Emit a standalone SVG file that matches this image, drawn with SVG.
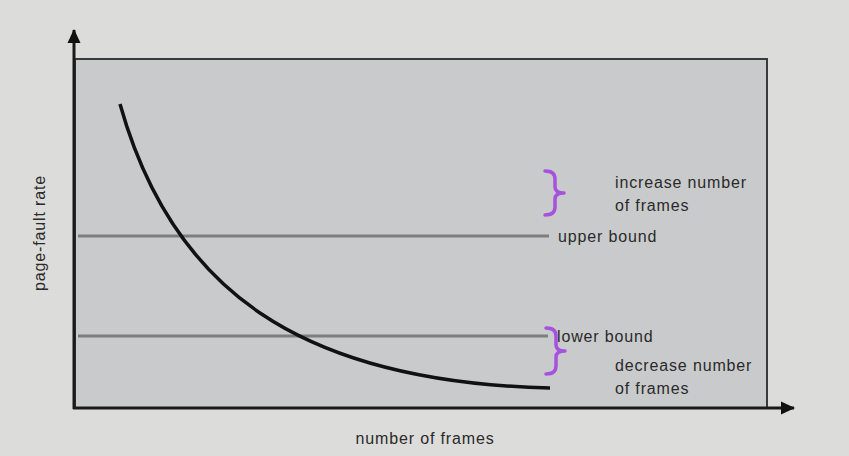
<svg xmlns="http://www.w3.org/2000/svg" width="849" height="456" viewBox="0 0 849 456">
<defs>
<marker id="arr" markerWidth="14" markerHeight="14" refX="13" refY="7" orient="auto" markerUnits="userSpaceOnUse">
<path d="M0,0.5 L14,7 L0,13.5 Z" fill="#111"/>
</marker>
</defs>
<style>
.t{font-family:"Liberation Sans",Arial,sans-serif;font-size:16px;fill:#2a2a2a;letter-spacing:0.85px}
.bound{stroke:#7d7e80;stroke-width:3;fill:none}
.brace{stroke:#a752de;stroke-width:3.5;fill:none;stroke-linecap:round;stroke-linejoin:round}
.axis{stroke:#1a1a1a;stroke-width:3;fill:none}
</style>
<rect x="0" y="0" width="849" height="456" fill="#dcdcda"/>
<g id="plot">
<rect x="75" y="59" width="692" height="349" fill="#c9cacc" stroke="#3a3a3a" stroke-width="2"/>
</g>
<g id="connectors">
<line class="axis" x1="74" y1="409" x2="74" y2="30" marker-end="url(#arr)"/>
<line class="axis" x1="73" y1="408" x2="794" y2="408" marker-end="url(#arr)"/>
<line class="bound" x1="78" y1="236" x2="549" y2="236"/>
<line class="bound" x1="78" y1="336" x2="548" y2="336"/>
<path d="M120,104 C172,290 300,382 550,388" stroke="#111" stroke-width="3.5" fill="none"/>
</g>
<g id="brace-upper">
<path class="brace" d="M545,171 Q555,171 555,179 L555,187 Q555,193 564,193 Q555,193 555,199 L555,207 Q555,215 545,215"/>
<text class="t" x="615" y="188">increase number</text>
<text class="t" x="615" y="211">of frames</text>
</g>
<g id="label-upper"><text class="t" x="558" y="242">upper bound</text></g>
<g id="label-lower"><text class="t" x="557" y="342">lower bound</text></g>
<g id="brace-lower">
<path class="brace" d="M546,328 Q556,328 556,336 L556,345 Q556,351 565,351 Q556,351 556,357 L556,366 Q556,374 546,374"/>
<text class="t" x="615" y="371">decrease number</text>
<text class="t" x="615" y="394">of frames</text>
</g>
<g id="x-label"><text class="t" x="425" y="444" text-anchor="middle">number of frames</text></g>
<g id="y-label"><text class="t" x="0" y="0" text-anchor="middle" transform="translate(45,233) rotate(-90)">page-fault rate</text></g>
</svg>
